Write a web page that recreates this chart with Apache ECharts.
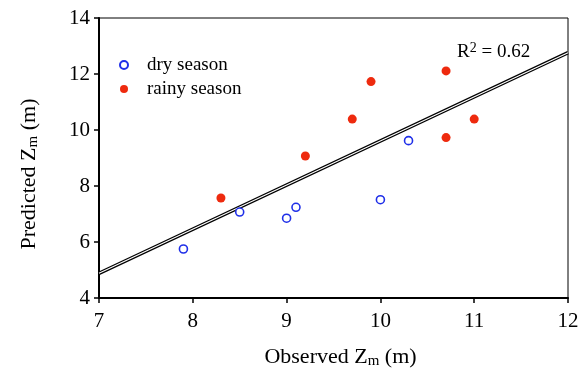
<!DOCTYPE html>
<html><head><meta charset="utf-8">
<script src="https://cdn.jsdelivr.net/npm/echarts@6/dist/echarts.min.js"></script>
<style>html,body{margin:0;padding:0;background:#fff;overflow:hidden}#c{width:579px;height:368px}</style>
</head><body><div id="c"></div>
<script>
var dryX = [7.9, 8.5, 9.0, 9.1, 10.0, 10.3];
var dryY = [5.75, 7.07, 6.85, 7.24, 7.51, 9.62];
var rainyX = [8.3, 9.2, 9.7, 9.9, 10.7, 10.7, 11.0];
var rainyY = [7.57, 9.07, 10.39, 11.73, 12.11, 9.73, 10.39];
var fitX = [7, 12];
var fitY = [4.88, 12.76];
var xTicks = [7, 8, 9, 10, 11, 12];
var yTicks = [4, 6, 8, 10, 12, 14];
var r2Text = '0.62';

function pairs(a, b) { return a.map(function (v, i) { return [v, b[i]]; }); }
var FONT = '"Liberation Serif", "Times New Roman", serif';
var chart = echarts.init(document.getElementById('c'), null, {renderer: 'canvas', width: 579, height: 368});
chart.setOption({
  animation: false,
  grid: {left: 99, right: 11, top: 18, bottom: 70, containLabel: false, outerBoundsMode: 'none',
    show: true, borderColor: '#000', borderWidth: 1},
  xAxis: {
    type: 'value', min: xTicks[0], max: xTicks[xTicks.length - 1], interval: 1,
    name: '{n|Observed Z}{sub|m}{n| (m)}', nameLocation: 'middle', nameGap: 47,
    nameTextStyle: {padding: [0, 0, 0, 14], rich: {
      n: {fontFamily: FONT, fontSize: 22, color: '#000', lineHeight: 24},
      sub: {fontFamily: FONT, fontSize: 15, color: '#000', lineHeight: 24, verticalAlign: 'bottom', padding: [9, 0, 0, 0]}
    }},
    axisLine: {lineStyle: {color: '#000', width: 2}},
    axisTick: {inside: false, length: 5, lineStyle: {color: '#000', width: 1.5}},
    axisLabel: {fontFamily: FONT, fontSize: 21, color: '#000', margin: 13},
    splitLine: {show: false}
  },
  yAxis: {
    type: 'value', min: yTicks[0], max: yTicks[yTicks.length - 1], interval: 2,
    name: '{n|Predicted Z}{sub|m}{n| (m)}', nameLocation: 'middle', nameGap: 58,
    nameTextStyle: {padding: [0, 32, 0, 0], rich: {
      n: {fontFamily: FONT, fontSize: 22, color: '#000', lineHeight: 24},
      sub: {fontFamily: FONT, fontSize: 15, color: '#000', lineHeight: 24, verticalAlign: 'bottom', padding: [9, 0, 0, 0]}
    }},
    axisLine: {lineStyle: {color: '#000', width: 2}},
    axisTick: {inside: false, length: 5, lineStyle: {color: '#000', width: 1.5}},
    axisLabel: {fontFamily: FONT, fontSize: 21, color: '#000', margin: 9},
    splitLine: {show: false}
  },
  legend: {
    orient: 'vertical', left: 114, top: 50, itemWidth: 8, itemHeight: 8, itemGap: 4,
    textStyle: {fontFamily: FONT, fontSize: 19, color: '#000', padding: [0, 0, 0, 14], lineHeight: 20},
    data: ['dry season', 'rainy season']
  },
  graphic: [{
    type: 'text', left: 457, top: 41,
    style: {
      text: '{n|R}{sup|2}{n| = ' + r2Text + '}',
      rich: {
        n: {fontFamily: FONT, fontSize: 19, fill: '#000', lineHeight: 22},
        sup: {fontFamily: FONT, fontSize: 14, fill: '#000', lineHeight: 22, verticalAlign: 'top', padding: [0, 0, 6, 0]}
      }
    }
  }],
  series: [
    {type: 'line', data: pairs(fitX, fitY), symbol: 'none', silent: true, lineStyle: {color: '#000', width: 3.6}, z: 2},
    {type: 'line', data: pairs(fitX, fitY), symbol: 'none', silent: true, lineStyle: {color: '#fff', width: 1.1}, z: 3},
    {name: 'dry season', type: 'scatter', data: pairs(dryX, dryY), symbol: 'circle', symbolSize: 8,
      itemStyle: {color: '#fff', borderColor: '#1f2fe8', borderWidth: 1.6, opacity: 1}, z: 5},
    {name: 'rainy season', type: 'scatter', data: pairs(rainyX, rainyY), symbol: 'circle', symbolSize: 9,
      itemStyle: {color: '#ee2a0e', opacity: 1}, z: 5}
  ]
});
</script></body></html>
